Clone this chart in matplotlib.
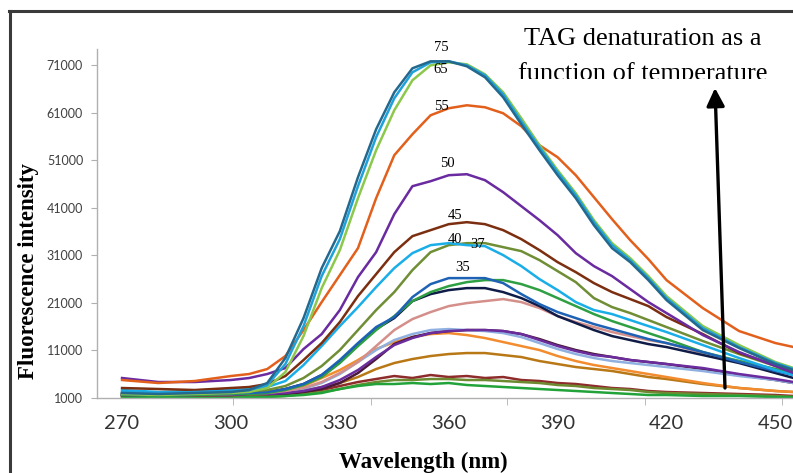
import numpy as np
import matplotlib.pyplot as plt
from matplotlib.lines import Line2D
from matplotlib.transforms import Bbox, IdentityTransform

# emission wavelengths (nm) shared by all spectra
wl = [270, 280, 290, 300, 305, 310, 315, 320, 325, 330, 335, 340, 345, 350, 355, 360,
      365, 370, 375, 380, 385, 390, 395, 400, 405, 410, 415, 420, 430, 440, 450, 455]

# fluorescence intensity per spectrum
s75 = [2050, 1840, 2050, 2260, 2680, 4150, 9400, 17800, 28300, 36070, 47410, 57490, 65260, 70300, 71770, 71770,
       70720, 68410, 64210, 58540, 53080, 47830, 43000, 37330, 32500, 29560, 25780, 21580, 15280, 11500, 8140, 6880]
s65 = [2260, 2050, 2260, 2470, 2680, 3730, 8140, 16120, 26620, 34390, 45520, 55810, 64000, 69460, 71560, 71770,
       70930, 68830, 64840, 59170, 53710, 48460, 43630, 37960, 33130, 29980, 26200, 22000, 15700, 11710, 8350, 7090]
s70 = [1840, 1630, 1840, 2050, 2260, 3100, 6460, 14020, 24100, 32080, 43000, 53080, 61480, 67780, 70930, 71560,
       71140, 69040, 65260, 59800, 54130, 48880, 44050, 38380, 33550, 30400, 26620, 22420, 16120, 12130, 8560, 7300]
s55 = [4780, 4150, 4570, 5620, 6040, 7090, 9820, 15280, 21160, 26830, 32500, 43000, 52030, 56440, 60430, 61900,
       62530, 62110, 60850, 58120, 54130, 51610, 47830, 43210, 38590, 34180, 30190, 25780, 19900, 15070, 12550, 11710]
s50 = [5200, 4360, 4360, 4780, 5200, 6040, 7300, 11290, 14440, 19480, 26410, 31660, 39640, 45520, 46570, 47830,
       48040, 46780, 44260, 41320, 38380, 35230, 31450, 28720, 26620, 23890, 21160, 18850, 14230, 10660, 7720, 6250]
s45 = [3100, 2890, 2680, 3100, 3310, 3940, 5620, 8980, 12550, 16960, 22420, 27040, 31660, 35020, 36280, 37540,
       37960, 37540, 36280, 34390, 32080, 29560, 27460, 25150, 23260, 21790, 20320, 18010, 14440, 10450, 7930, 6880]
s40 = [2680, 2260, 2470, 2680, 2890, 3310, 4570, 7930, 11920, 16120, 20110, 24310, 28300, 31450, 33130, 33550,
       33130, 32920, 31030, 28720, 25990, 23680, 21160, 19480, 18640, 17380, 16120, 14860, 12130, 9400, 6880, 5830]
s37 = [2050, 1840, 2050, 2260, 2470, 2680, 3520, 5200, 7720, 11080, 15280, 19480, 23260, 27880, 31660, 33130,
       33550, 33550, 32710, 31870, 29980, 27670, 25360, 22000, 20110, 18850, 17380, 15910, 12970, 10240, 7720, 6670]
s35 = [1840, 1630, 1840, 2050, 2050, 2260, 2890, 3940, 5830, 8980, 12550, 15910, 18010, 22210, 24940, 26200,
       26200, 26200, 25150, 22840, 20740, 19060, 17800, 16540, 15490, 14440, 13390, 12550, 10660, 8560, 6670, 5830]
s_green = [1630, 1420, 1630, 1840, 1840, 2050, 2680, 3730, 5410, 8350, 11920, 15280, 18220, 21370, 23260, 24520,
           25360, 25780, 25780, 24940, 23680, 22000, 20320, 18640, 17170, 15910, 14650, 13390, 10660, 8770, 7090, 6250]
s_navy = [1630, 1630, 1840, 2050, 2050, 2260, 2890, 3940, 5830, 8560, 12130, 15490, 17800, 21370, 22840, 23680,
          24100, 24100, 23260, 22000, 20320, 18220, 16750, 15280, 14020, 13180, 12340, 11710, 10030, 8350, 6250, 5200]
s_pink = [1840, 1630, 1840, 1840, 2050, 2050, 2470, 3100, 4360, 6250, 8560, 11920, 15280, 17590, 19060, 20320,
          20950, 21370, 21790, 21160, 19900, 18220, 16960, 15910, 14860, 14020, 13180, 12550, 10450, 8770, 7090, 6250]
s_purple = [1630, 1420, 1630, 1630, 1840, 1840, 2050, 2470, 3310, 4780, 6880, 9610, 12130, 13600, 14650, 15070,
            15280, 15280, 15070, 14440, 13180, 11920, 10870, 10030, 9610, 8980, 8560, 8140, 7300, 6040, 4990, 4360]
s_lav = [1840, 1630, 1840, 1840, 2050, 2050, 2260, 2890, 4150, 6040, 8560, 11080, 13180, 14440, 15280, 15490,
         15280, 15070, 14650, 13810, 12550, 11290, 10240, 9400, 8770, 8350, 7930, 7510, 6670, 5620, 4780, 4150]
s_maroon = [1630, 1420, 1630, 1630, 1840, 1840, 1840, 2260, 2890, 4150, 6250, 9190, 12340, 13810, 14650, 15070,
            15280, 15280, 15070, 14440, 13390, 12130, 11080, 10240, 9610, 8980, 8560, 8140, 7090, 5830, 4780, 4150]
s_orange = [2050, 1840, 1840, 1840, 2050, 2260, 2680, 3520, 5200, 6880, 8980, 11290, 12760, 13810, 14440, 14650,
            14230, 13600, 12760, 11920, 11080, 9820, 8770, 7930, 7300, 6670, 6040, 5410, 4150, 3100, 2470, 2260]
s_gold = [1630, 1420, 1630, 1630, 1630, 1840, 2050, 2470, 3310, 4150, 5410, 7090, 8350, 9190, 9820, 10240,
          10450, 10450, 10030, 9610, 8770, 8140, 7510, 7090, 6670, 6040, 5410, 4990, 3940, 3100, 2470, 2260]
s_red = [1420, 1210, 1210, 1210, 1210, 1420, 1630, 2050, 2680, 3520, 4360, 4990, 5620, 5200, 5830, 5410,
         5620, 5200, 5410, 4780, 4570, 4150, 3940, 3520, 3100, 2890, 2470, 2260, 2050, 1840, 1630, 1420]
s_olive = [1210, 1210, 1000, 1000, 1210, 1210, 1420, 1840, 2260, 2890, 3730, 4360, 4780, 4780, 4990, 4990,
           4780, 4780, 4570, 4360, 4150, 3730, 3520, 3100, 2890, 2680, 2260, 2050, 1840, 1630, 1420, 1210]
s_low = [1000, 1000, 1000, 1000, 1210, 1210, 1420, 1630, 2050, 2890, 3520, 3940, 3940, 4150, 3940, 4150,
         3730, 3520, 3310, 3100, 2890, 2680, 2470, 2260, 2050, 1840, 1630, 1630, 1420, 1420, 1210, 1210]

# temperature labels and where they sit (nm, intensity)
temp_labels = ['75', '65', '55', '50', '45', '40', '37', '35']
label_wl = [357.9, 357.9, 357.9, 359.6, 361.8, 361.8, 368.0, 363.7]
label_val = [74600, 70000, 62200, 50200, 39300, 34400, 33300, 28400]

xticks = [270, 300, 330, 360, 390, 420, 450]
yticks = [1000, 11000, 21000, 31000, 41000, 51000, 61000, 71000]

series = [s_red, s_olive, s_gold, s_orange, s_maroon, s_lav, s_purple, s_pink, s_navy, s_green,
          s35, s37, s40, s45, s50, s55, s70, s65, s75, s_low]
colors = ['#8E2B2B', '#6E8A30', '#B97816', '#F28C2E', '#4A1838', '#8FB0E0', '#6B2C9E', '#D48F8A',
          '#101C48', '#2EA043', '#1E62B5', '#6F8E35', '#1AAEE8', '#7B2E10', '#6A2AA0', '#E2601C',
          '#8CC84B', '#1FA2DA', '#24688E', '#22A33A']

W, H = 793, 473
fig = plt.figure(figsize=(W / 100, H / 100), dpi=100)
ax = fig.add_axes([97 / W, (H - 398) / H, (W - 97) / W, (398 - 49) / H])

for s, c in zip(series, colors):
    ax.plot(wl, s, color=c, lw=1.8, solid_joinstyle='round')

ax.set_xlim(263.1, 454.85)
ax.set_ylim(1000, 74360)

for spine in ['top', 'right']:
    ax.spines[spine].set_visible(False)
for spine in ['left', 'bottom']:
    ax.spines[spine].set_color('#B0B0B0')
    ax.spines[spine].set_linewidth(1.0)

ax.set_yticks(yticks)
ax.set_yticklabels([str(v) for v in yticks], fontfamily='Lato', fontsize=9, color='#404040')
ax.tick_params(axis='y', length=4, color='#B0B0B0', pad=6)

ax.set_xticks(xticks)
ax.set_xticklabels([str(v) for v in xticks], fontfamily='Lato', fontsize=14.5, color='#333333')
ax.tick_params(axis='x', which='major', length=0, pad=12.5)
ax.set_xticks([300.6, 338.6, 376.1, 414.1, 451.8], minor=True)
ax.tick_params(axis='x', which='minor', length=5, color='#B0B0B0')

for t, x, y in zip(temp_labels, label_wl, label_val):
    ax.text(x, y, t, ha='center', va='center', fontfamily='Liberation Serif',
            fontsize=10.5, color='black', clip_on=False)

fig.text(29 / W, (H - 271) / H, 'Fluorescence intensity', rotation=90, ha='center', va='center',
         fontfamily='Liberation Serif', fontweight='bold', fontsize=16.5)
fig.text(423 / W, (H - 462) / H, 'Wavelength (nm)', ha='center', va='center',
         fontfamily='Liberation Serif', fontweight='bold', fontsize=16.5)

fig.text(643, H - 45, 'TAG denaturation as a', ha='center', va='baseline',
         fontfamily='Liberation Serif', fontsize=19, transform=IdentityTransform())
t2 = fig.text(643, H - 80, 'function of temperature', ha='center', va='baseline',
              fontfamily='Liberation Serif', fontsize=19, transform=IdentityTransform())
t2.set_clip_box(Bbox([[0, H - 78.5], [W, H]]))
t2.set_clip_on(True)

ax.annotate('', xy=(715, H - 88), xycoords='figure pixels', xytext=(725, H - 388), textcoords='figure pixels',
            arrowprops=dict(arrowstyle='-|>,head_length=0.6,head_width=0.3', color='black', lw=2.4,
                            mutation_scale=18, shrinkA=0, shrinkB=0))

# frame around the picture (cut off at right and bottom)
fig.add_artist(Line2D([9.5 / W, 9.5 / W], [0, (H - 11) / H], color='#3A3A3A', lw=2.2, transform=fig.transFigure))
fig.add_artist(Line2D([8.5 / W, 1], [(H - 11) / H, (H - 11) / H], color='#3A3A3A', lw=2.2, transform=fig.transFigure))

fig.savefig('out.png', dpi=100)
